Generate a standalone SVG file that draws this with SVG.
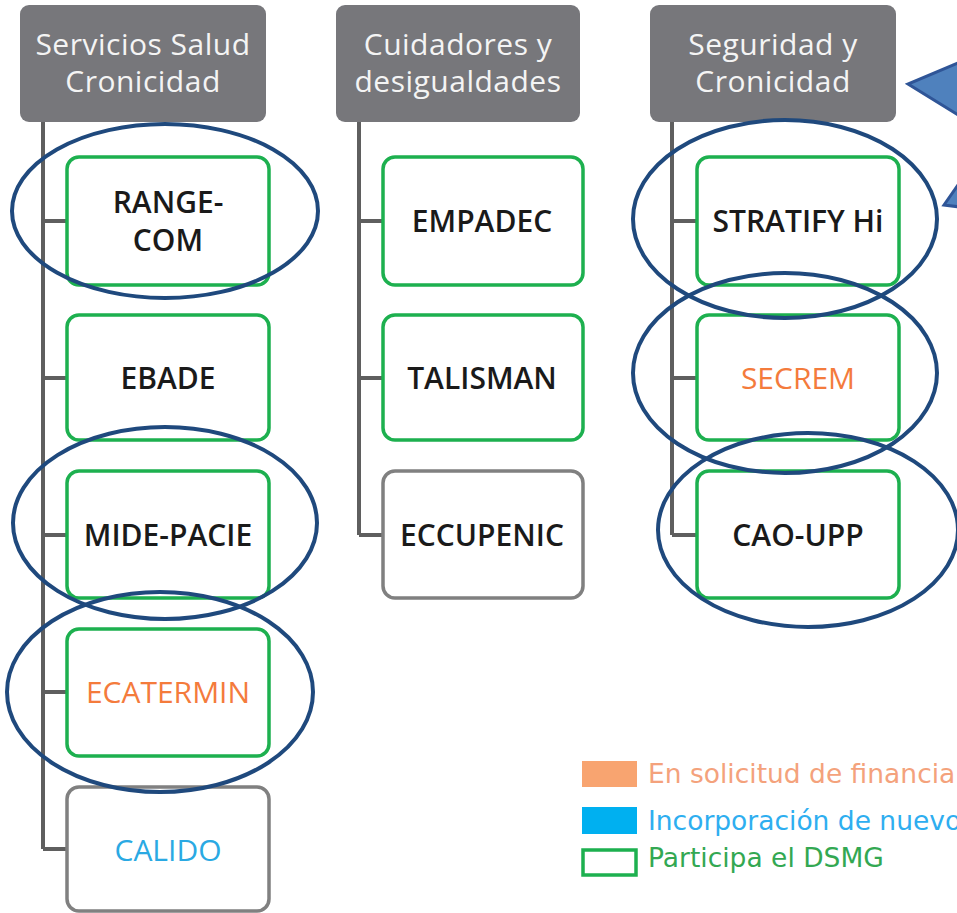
<svg xmlns="http://www.w3.org/2000/svg" width="957" height="913" viewBox="0 0 957 913">
<style>
.hdr{fill:#77777b}
.ht{font-family:"Open Sans","DejaVu Sans",sans-serif;font-size:30px;letter-spacing:0.5px;fill:#f4f4f4;text-anchor:middle}
.box{fill:#fff;stroke-width:3.5}
.g{stroke:#1db04f}
.gr{stroke:#808080}
.nt{font-family:"Open Sans","DejaVu Sans",sans-serif;font-size:30px;font-weight:600;text-anchor:middle;fill:#1a1a1a}
.or{fill:#f47b3c}
.bl{fill:#2aa9e3}
.conn{stroke:#5f5f5f;stroke-width:4;fill:none}
.ell{fill:none;stroke:#1f497d;stroke-width:4}
.lg{font-family:"DejaVu Sans",Verdana,sans-serif;font-size:26.5px}
</style>
<g id="connectors">
<path class="conn" d="M43 122V849M43 221H67M43 378H67M43 535H67M43 692H67M43 849H67"/>
<path class="conn" d="M359 122V535M359 221H383M359 378H383M359 535H383"/>
<path class="conn" d="M672 122V535M672 221H697M672 378H697M672 535H697"/>
</g>
<g id="h1"><rect class="hdr" x="20" y="5" width="246" height="117" rx="9"/><text class="ht" x="143" y="55">Servicios Salud</text><text class="ht" x="143" y="92">Cronicidad</text></g>
<g id="h2"><rect class="hdr" x="336" y="5" width="244" height="117" rx="9"/><text class="ht" x="458" y="55">Cuidadores y</text><text class="ht" x="458" y="92">desigualdades</text></g>
<g id="h3"><rect class="hdr" x="650" y="5" width="246" height="117" rx="9"/><text class="ht" x="773" y="55">Seguridad y</text><text class="ht" x="773" y="92">Cronicidad</text></g>

<g id="n-rangecom"><rect class="box g" x="67" y="157" width="202" height="128" rx="12"/><text class="nt" x="168" y="213">RANGE-</text><text class="nt" x="168" y="251">COM</text></g>
<g id="n-ebade"><rect class="box g" x="67" y="315" width="202" height="125" rx="12"/><text class="nt" x="168" y="389">EBADE</text></g>
<g id="n-midepacie"><rect class="box g" x="67" y="471" width="202" height="127" rx="12"/><text class="nt" x="168" y="546">MIDE-PACIE</text></g>
<g id="n-ecatermin"><rect class="box g" x="67" y="629" width="202" height="127" rx="12"/><text class="nt or" x="168" y="703" style="font-weight:400">ECATERMIN</text></g>
<g id="n-calido"><rect class="box gr" x="67" y="787" width="202" height="124" rx="12"/><text class="nt bl" x="168" y="861" style="font-weight:400">CALIDO</text></g>

<g id="n-empadec"><rect class="box g" x="383" y="157" width="200" height="128" rx="12"/><text class="nt" x="482" y="232">EMPADEC</text></g>
<g id="n-talisman"><rect class="box g" x="383" y="315" width="200" height="125" rx="12"/><text class="nt" x="482" y="389">TALISMAN</text></g>
<g id="n-eccupenic"><rect class="box gr" x="383" y="471" width="200" height="127" rx="12"/><text class="nt" x="482" y="546">ECCUPENIC</text></g>

<g id="n-stratify"><rect class="box g" x="697" y="157" width="202" height="128" rx="12"/><text class="nt" x="798" y="232">STRATIFY Hi</text></g>
<g id="n-secrem"><rect class="box g" x="697" y="315" width="202" height="125" rx="12"/><text class="nt or" x="798" y="389" style="font-weight:400">SECREM</text></g>
<g id="n-caoupp"><rect class="box g" x="697" y="471" width="202" height="127" rx="12"/><text class="nt" x="798" y="546">CAO-UPP</text></g>

<g id="highlights">
<ellipse class="ell" cx="165" cy="211" rx="153" ry="87"/>
<ellipse class="ell" cx="165" cy="523" rx="152" ry="96"/>
<ellipse class="ell" cx="160" cy="692" rx="153" ry="100"/>
<ellipse class="ell" cx="785" cy="219" rx="152" ry="99"/>
<ellipse class="ell" cx="785" cy="373" rx="152" ry="100"/>
<ellipse class="ell" cx="808" cy="530" rx="150" ry="97"/>
</g>

<g id="callout">
<polygon points="960,62 908,84 960,116" fill="#4f81bd" stroke="#2f5597" stroke-width="3"/>
<polygon points="960,182 944,205 960,207" fill="#4f81bd" stroke="#2f5597" stroke-width="3"/>
</g>

<g id="legend">
<rect x="582" y="761" width="55" height="26" fill="#f8a470"/>
<text class="lg" x="648" y="783" fill="#f4a27c">En solicitud de financia</text>
<rect x="582" y="807" width="55" height="27" fill="#00b0f0"/>
<text class="lg" x="648" y="830" fill="#2eaef0">Incorporación de nuevo</text>
<rect x="583" y="850" width="53" height="25" fill="#fff" stroke="#1db04f" stroke-width="3.5"/>
<text class="lg" x="648" y="867" fill="#33a852">Participa el DSMG</text>
</g>
</svg>
